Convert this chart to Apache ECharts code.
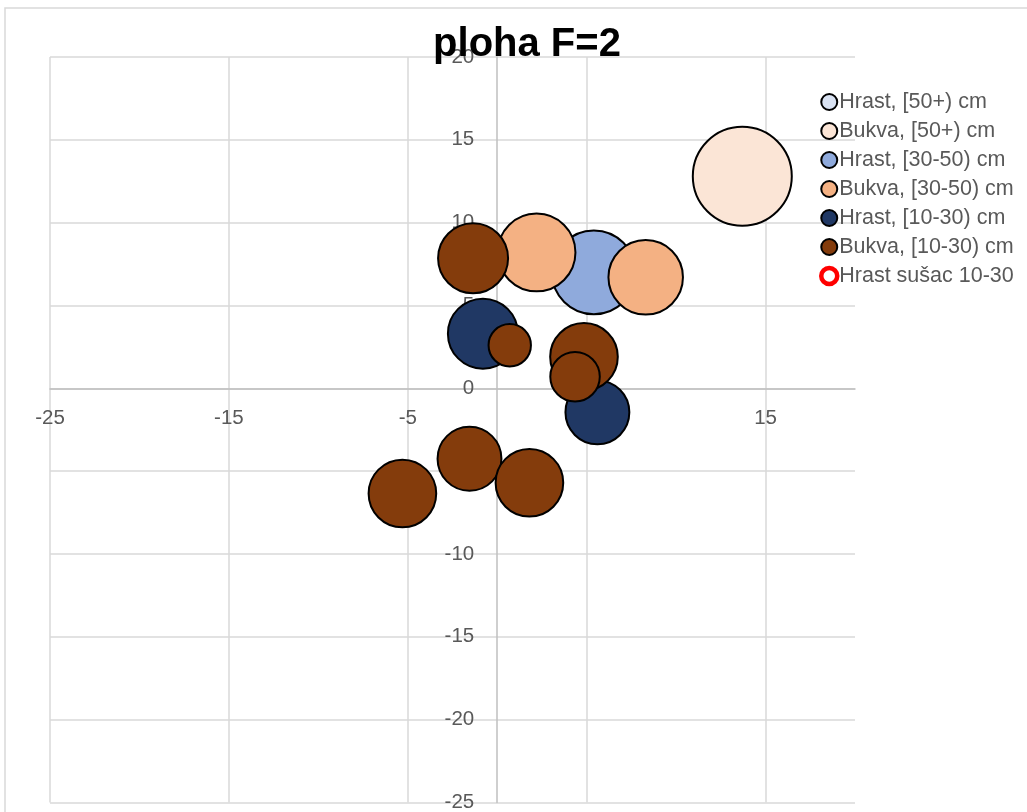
<!DOCTYPE html>
<html>
<head>
<meta charset="utf-8">
<title>ploha F=2</title>
<script src="https://cdn.jsdelivr.net/npm/echarts@6/dist/echarts.min.js"></script>
<style>
  html, body { margin: 0; padding: 0; background: #fff; }
  #chart { width: 1027px; height: 812px; }
</style>
</head>
<body>
<div id="chart"></div>
<script>
  // [x, y, promjer] -- treca vrijednost odredjuje velicinu mjehura
  var hrast50 = [];
  var bukva50 = [[13.7, 12.8, 60]];
  var hrast3050 = [[5.4, 7.0, 43]];
  var bukva3050 = [[2.2, 8.2, 37], [8.3, 6.7, 34]];
  var hrast1030 = [[-0.8, 3.3, 30], [5.6, -1.45, 25]];
  var bukva1030 = [
    [-1.35, 7.85, 30], [0.7, 2.6, 11], [4.85, 1.9, 28], [4.35, 0.7, 15],
    [-5.3, -6.35, 28], [-1.55, -4.25, 25], [1.8, -5.7, 28]
  ];
  var hrastSusac = [];

  var seriesNames = [
    'Hrast, [50+) cm', 'Bukva, [50+) cm', 'Hrast, [30-50) cm', 'Bukva, [30-50) cm',
    'Hrast, [10-30) cm', 'Bukva, [10-30) cm', 'Hrast sušac 10-30'
  ];
  var seriesData = [hrast50, bukva50, hrast3050, bukva3050, hrast1030, bukva1030, hrastSusac];
  var colors = ['#dae3f3', '#fbe5d6', '#8faadc', '#f4b183', '#203864', '#843c0c', '#ffffff'];

  var xMin = -25, xMax = 20, yMin = -25, yMax = 20;
  var gLeft = 50, gTop = 57, gWidth = 805, gHeight = 745.5;
  // osi prolaze kroz nulu, pa ih pomicemo offsetom
  var xOffset = -(gHeight * (0 - yMin) / (yMax - yMin));
  var yOffset = -(gWidth * (0 - xMin) / (xMax - xMin));

  var chart = echarts.init(document.getElementById('chart'));

  var series = [];
  var legendData = [];
  for (var i = 0; i < seriesNames.length; i++) {
    var last = i === seriesNames.length - 1;
    series.push({
      name: seriesNames[i],
      type: 'scatter',
      data: seriesData[i],
      symbol: 'circle',
      symbolSize: function (v) {
        return Math.sqrt(v[2]) * 12.78;
      },
      itemStyle: {
        color: colors[i],
        borderColor: last ? '#ff0000' : '#000000',
        borderWidth: last ? 4 : 2,
        opacity: 1
      },
      emphasis: { disabled: true }
    });
    legendData.push({
      name: seriesNames[i],
      itemStyle: {
        color: colors[i],
        borderColor: last ? '#ff0000' : '#000000',
        borderWidth: last ? 4.5 : 2
      }
    });
  }

  var gridColor = '#d9d9d9';

  var option = {
    animation: false,
    backgroundColor: '#ffffff',
    title: {
      text: 'ploha F=2',
      left: 522,
      top: 20,
      textAlign: 'center',
      textStyle: {
        fontFamily: 'Liberation Sans',
        fontWeight: 'bold',
        fontSize: 40,
        color: '#000000'
      }
    },
    graphic: [{
      type: 'rect',
      shape: { x: 5, y: 8, width: 2000, height: 2000 },
      style: { fill: 'none', stroke: gridColor, lineWidth: 1.5 },
      silent: true,
      z: -10
    }],
    legend: {
      orient: 'vertical',
      left: 814,
      top: 86,
      itemWidth: 16,
      itemHeight: 16,
      itemGap: 7,
      data: legendData,
      selectedMode: false,
      textStyle: {
        fontFamily: 'Liberation Sans',
        fontSize: 21.5,
        color: '#595959',
        padding: [0, 0, 0, -3]
      }
    },
    grid: {
      left: gLeft,
      top: gTop,
      width: gWidth,
      height: gHeight,
      containLabel: false,
      outerBoundsMode: 'none'
    },
    xAxis: {
      type: 'value',
      min: xMin,
      max: xMax,
      interval: 10,
      position: 'bottom',
      offset: xOffset,
      axisLine: { onZero: false, lineStyle: { color: '#bfbfbf', width: 1.5 } },
      axisTick: { show: false },
      axisLabel: {
        showMaxLabel: false,
        margin: 20,
        fontFamily: 'Liberation Sans',
        fontSize: 20.5,
        color: '#595959'
      },
      splitLine: {
        lineStyle: {
          color: [gridColor, gridColor, gridColor, gridColor, gridColor, 'rgba(0,0,0,0)'],
          width: 1.5
        }
      }
    },
    yAxis: {
      type: 'value',
      min: yMin,
      max: yMax,
      interval: 5,
      position: 'left',
      offset: yOffset,
      axisLine: { onZero: false, lineStyle: { color: '#bfbfbf', width: 1.5 } },
      axisTick: { show: false },
      axisLabel: {
        margin: 23,
        fontFamily: 'Liberation Sans',
        fontSize: 20.5,
        color: '#595959'
      },
      splitLine: { lineStyle: { color: gridColor, width: 1.5 } }
    },
    series: series
  };

  chart.setOption(option);
</script>
</body>
</html>
